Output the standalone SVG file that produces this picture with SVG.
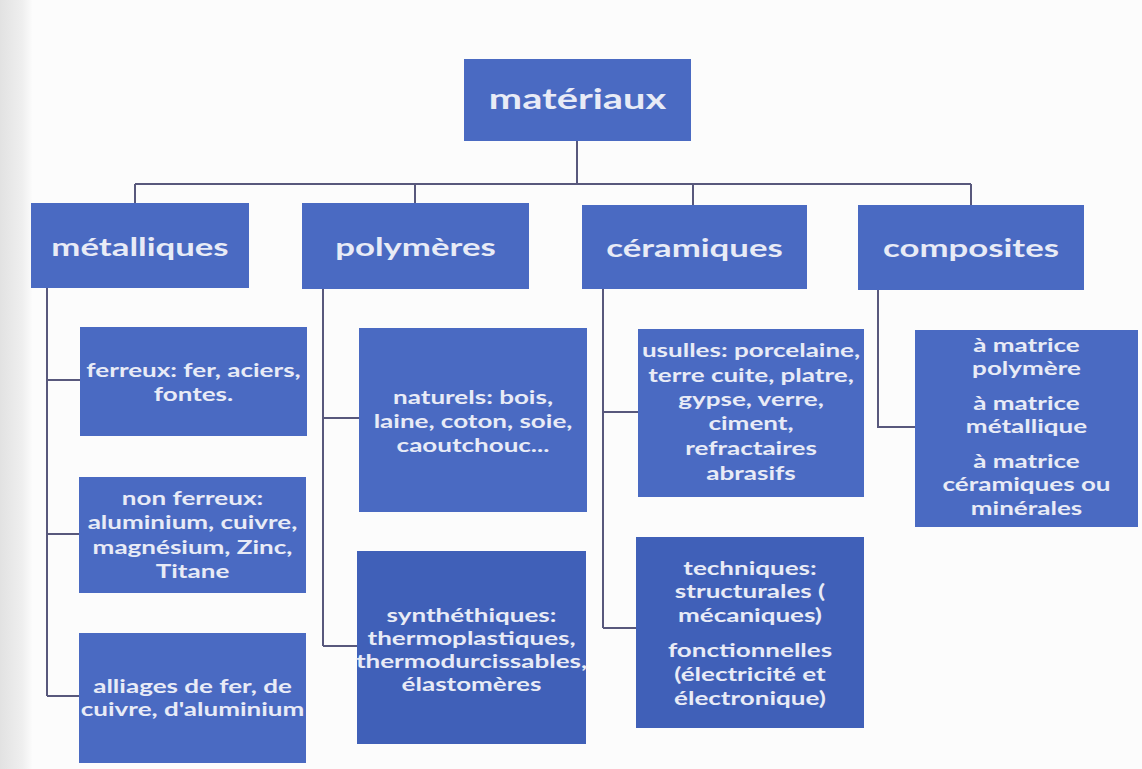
<svg xmlns="http://www.w3.org/2000/svg" width="1142" height="769" viewBox="0 0 1142 769">
<defs>
<linearGradient id="scan" x1="0" y1="0" x2="1" y2="0">
<stop offset="0" stop-color="#e2e2e2"/>
<stop offset="0.7" stop-color="#efefef"/>
<stop offset="1" stop-color="#fbfbfb"/>
</linearGradient>
<style>
.box{fill:#4a6ac2}
.box2{fill:#4060b8}
.txt{font-family:Lato,"Open Sans","DejaVu Sans",sans-serif;fill:#e8ebf6;text-anchor:middle;font-weight:700}
.t0{font-size:28px}
.t1{font-size:25px}
.t2{font-size:19px}
.conn{stroke:#58587c;stroke-width:2;fill:none}
</style>
</defs>
<rect x="0" y="0" width="1142" height="769" fill="#fcfcfc"/>
<rect x="0" y="0" width="32" height="769" fill="url(#scan)"/>

<g id="connectors" class="conn">
<path d="M577 141V184M135 184H971M135 184V203M415 184V203M693 184V205M971 184V205"/>
<path d="M47 288V696M47 380H80M47 534H79M47 696H79"/>
<path d="M323 289V646M323 418H359M323 646H357"/>
<path d="M603 289V628M603 412H638M603 628H636"/>
<path d="M878 290V427H915"/>
</g>

<g id="materiaux">
<rect class="box" x="464" y="59" width="227" height="82"/>
<text class="txt t0" transform="translate(577.5 0) scale(1.42 1)" x="0" y="109">matériaux</text>
</g>

<g id="metalliques">
<rect class="box" x="31" y="203" width="218" height="85"/>
<text class="txt t1" transform="translate(140 0) scale(1.39 1)" x="0" y="256">métalliques</text>
</g>
<g id="polymeres">
<rect class="box" x="302" y="203" width="227" height="86"/>
<text class="txt t1" transform="translate(415.5 0) scale(1.39 1)" x="0" y="256">polymères</text>
</g>
<g id="ceramiques">
<rect class="box" x="582" y="205" width="225" height="84"/>
<text class="txt t1" transform="translate(694.5 0) scale(1.39 1)" x="0" y="257">céramiques</text>
</g>
<g id="composites">
<rect class="box" x="858" y="205" width="226" height="85"/>
<text class="txt t1" transform="translate(971 0) scale(1.39 1)" x="0" y="257">composites</text>
</g>

<g id="ferreux">
<rect class="box" x="80" y="327" width="227" height="109"/>
<g class="txt t2" transform="translate(193.5 0) scale(1.37 1)">
<text x="0" y="377">ferreux: fer, aciers,</text>
<text x="0" y="401">fontes.</text>
</g>
</g>
<g id="non-ferreux">
<rect class="box" x="79" y="477" width="227" height="116"/>
<g class="txt t2" transform="translate(192.5 0) scale(1.37 1)">
<text x="0" y="505">non ferreux:</text>
<text x="0" y="529">aluminium, cuivre,</text>
<text x="0" y="554">magnésium, Zinc,</text>
<text x="0" y="578">Titane</text>
</g>
</g>
<g id="alliages">
<rect class="box" x="79" y="633" width="227" height="130"/>
<g class="txt t2" transform="translate(192.5 0) scale(1.37 1)">
<text x="0" y="693">alliages de fer, de</text>
<text x="0" y="716">cuivre, d'aluminium</text>
</g>
</g>

<g id="naturels">
<rect class="box" x="359" y="328" width="228" height="184"/>
<g class="txt t2" transform="translate(473 0) scale(1.37 1)">
<text x="0" y="404">naturels: bois,</text>
<text x="0" y="428">laine, coton, soie,</text>
<text x="0" y="452">caoutchouc...</text>
</g>
</g>
<g id="synthetiques">
<rect class="box2" x="357" y="551" width="229" height="193"/>
<g class="txt t2" transform="translate(471.5 0) scale(1.37 1)">
<text x="0" y="622">synthéthiques:</text>
<text x="0" y="645">thermoplastiques,</text>
<text x="0" y="668">thermodurcissables,</text>
<text x="0" y="691">élastomères</text>
</g>
</g>

<g id="usuelles">
<rect class="box" x="638" y="329" width="226" height="168"/>
<g class="txt t2" transform="translate(751 0) scale(1.37 1)">
<text x="0" y="357">usulles: porcelaine,</text>
<text x="0" y="382">terre cuite, platre,</text>
<text x="0" y="406">gypse, verre,</text>
<text x="0" y="430">ciment,</text>
<text x="0" y="455">refractaires</text>
<text x="0" y="480">abrasifs</text>
</g>
</g>
<g id="techniques">
<rect class="box2" x="636" y="537" width="228" height="191"/>
<g class="txt t2" transform="translate(750 0) scale(1.37 1)">
<text x="0" y="575">techniques:</text>
<text x="0" y="598">structurales (</text>
<text x="0" y="622">mécaniques)</text>
<text x="0" y="657">fonctionnelles</text>
<text x="0" y="681">(électricité et</text>
<text x="0" y="705">électronique)</text>
</g>
</g>

<g id="matrices">
<rect class="box" x="915" y="330" width="223" height="197"/>
<g class="txt t2" transform="translate(1026.5 0) scale(1.37 1)">
<text x="0" y="352">à matrice</text>
<text x="0" y="375">polymère</text>
<text x="0" y="410">à matrice</text>
<text x="0" y="433">métallique</text>
<text x="0" y="468">à matrice</text>
<text x="0" y="491">céramiques ou</text>
<text x="0" y="515">minérales</text>
</g>
</g>
</svg>
